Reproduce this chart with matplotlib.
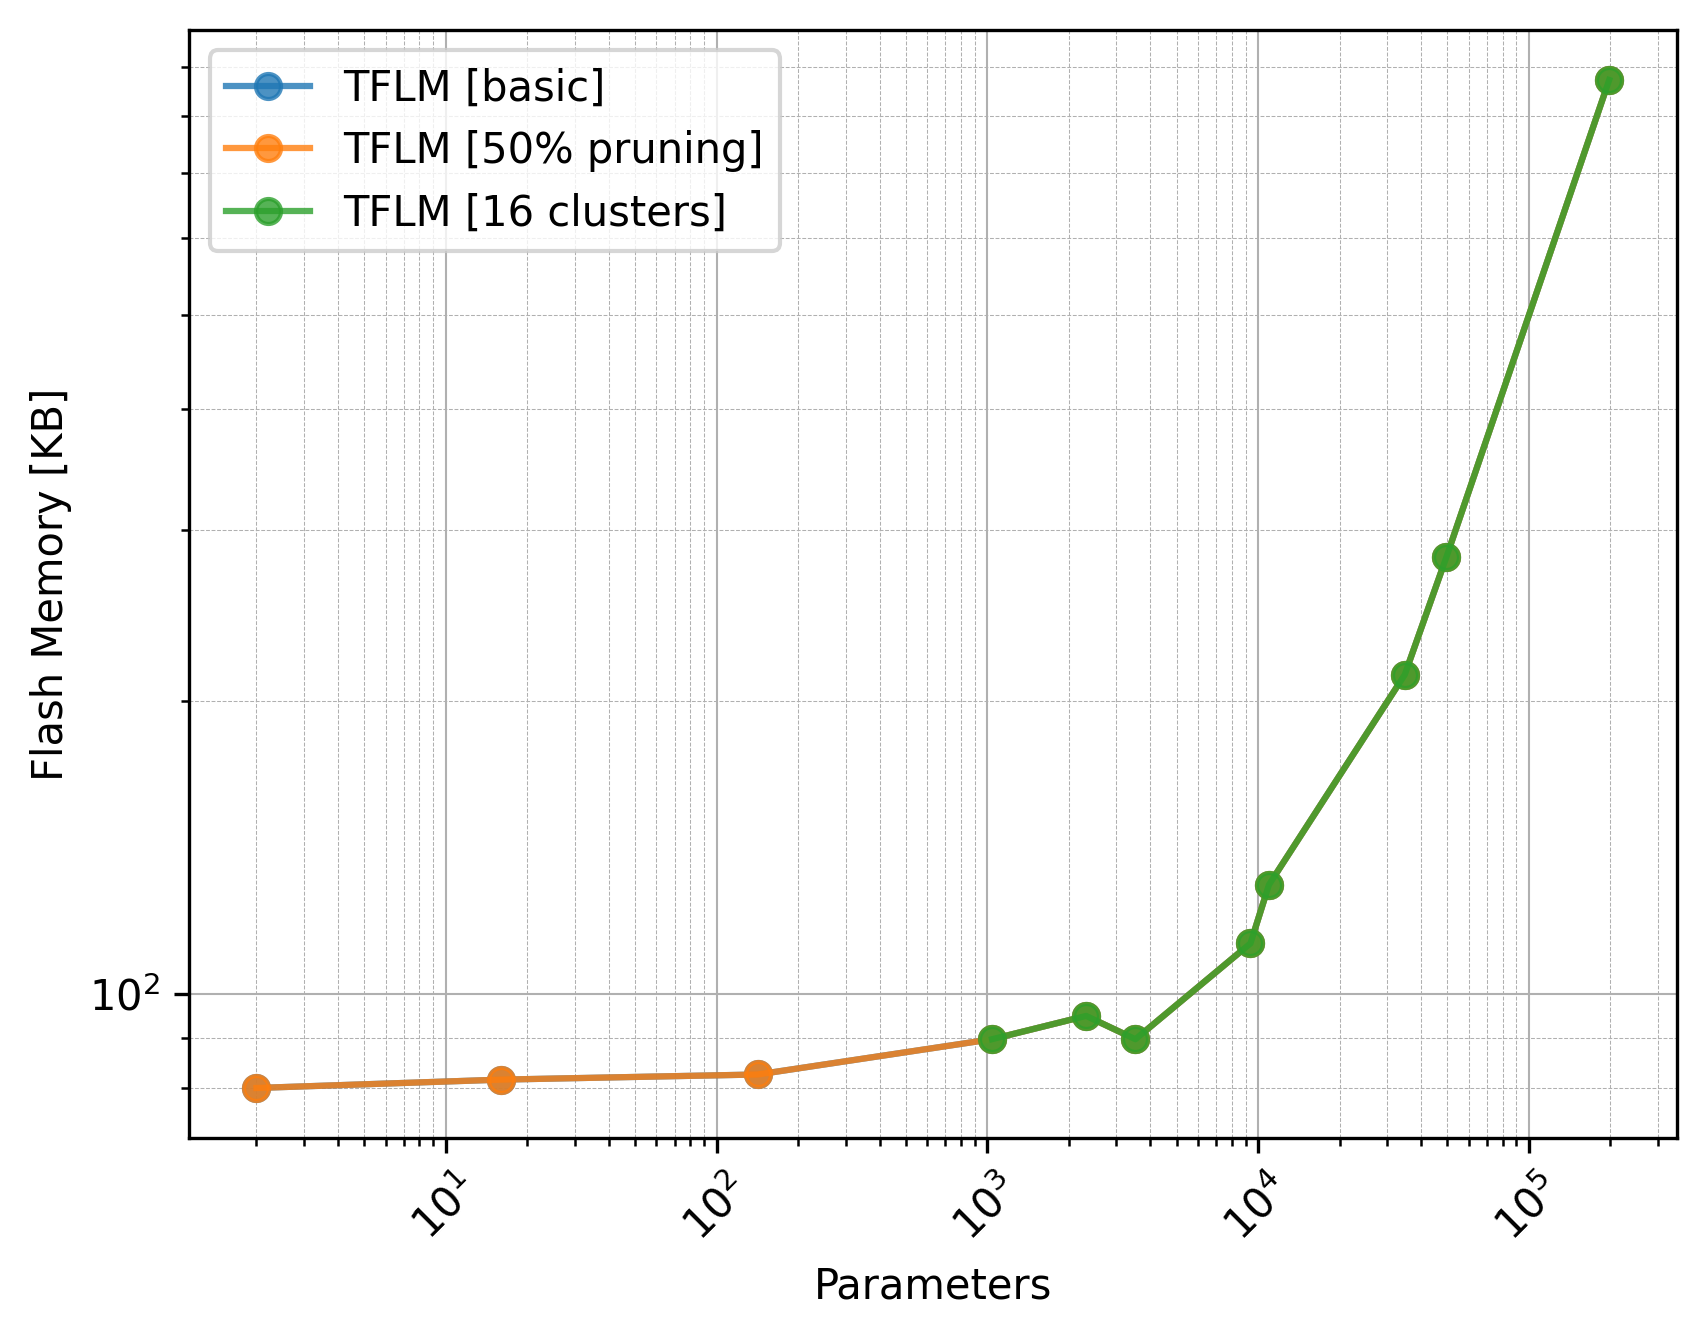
import numpy as np
import matplotlib
matplotlib.use("Agg")
import matplotlib.pyplot as plt

# parameters vs flash memory
params = [2, 16, 142, 1041, 2318, 3524, 9375, 10970, 34800, 49600, 198000]
flash_basic = [80.0, 81.6, 82.6, 89.8, 94.9, 89.8, 112.7, 129.5, 213.0, 281.5, 872.0]
flash_pruning = [80.0, 81.6, 82.6, 89.8, 94.9, 89.8, 112.7, 129.5, 213.0, 281.5, 872.0]
params_clusters = [1041, 2318, 3524, 9375, 10970, 34800, 49600, 198000]
flash_clusters = [89.8, 94.9, 89.8, 112.7, 129.5, 213.0, 281.5, 872.0]

labels = ["TFLM [basic]", "TFLM [50% pruning]", "TFLM [16 clusters]"]

fig = plt.figure(figsize=(6.4, 4.8))
plt.plot(params, flash_basic, 'o-', alpha=0.8, label=labels[0])
plt.plot(params, flash_pruning, 'o-', alpha=0.8, label=labels[1])
plt.plot(params_clusters, flash_clusters, 'o-', alpha=0.8, label=labels[2])

plt.xscale('log')
plt.yscale('log')
plt.grid(which='major', linestyle='-', linewidth=0.5)
plt.grid(which='minor', linestyle='--', linewidth=0.25)
plt.xticks(rotation=45)
plt.xlabel('Parameters')
plt.ylabel('Flash Memory [KB]')
plt.legend(loc='upper left')

plt.savefig('out.png', dpi=300, bbox_inches='tight')
